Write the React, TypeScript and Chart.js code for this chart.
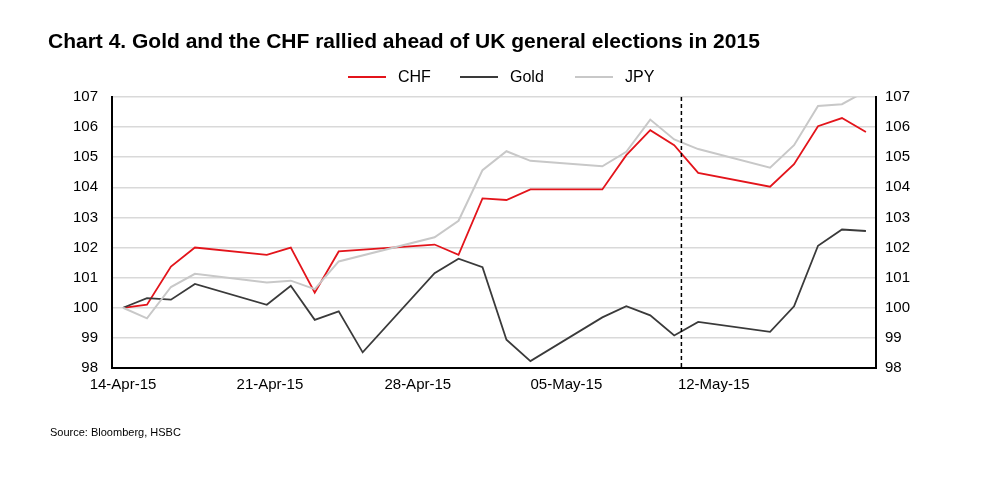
import React, { useEffect, useRef } from "react";
import { Chart, registerables } from "chart.js";
Chart.register(...registerables);

const days = [0, 1, 2, 3, 6, 7, 8, 9, 10, 13, 14, 15, 16, 17, 20, 21, 22, 23, 24, 27, 28, 29, 30, 31];
const chf = [100, 100.1, 101.37, 102, 101.76, 102, 100.5, 101.87, null, 102.1, 101.76, 103.63, 103.58, 103.93, 103.93, 105.07, 105.9, 105.4, 104.48, 104.02, 104.77, 106.03, 106.3, 105.84];
const gold = [100, 100.32, 100.27, 100.79, 100.1, 100.73, 99.6, 99.88, 98.52, 101.15, 101.63, 101.35, 98.94, 98.23, 99.68, 100.05, 99.75, 99.08, 99.53, 99.2, 100.05, 102.06, 102.6, 102.55];
const jpy = [100, 99.65, 100.69, 101.13, 100.84, 100.9, 100.62, 101.54, null, 102.34, 102.89, 104.57, 105.2, 104.88, 104.7, 105.18, 106.25, 105.59, 105.27, 104.65, 105.4, 106.7, 106.76, 107.2];
const tickPos = [0, 6.13, 12.3, 18.5, 24.65];
const tickLabels = ["14-Apr-15", "21-Apr-15", "28-Apr-15", "05-May-15", "12-May-15"];
const electionDay = 23.3;

const pts = (arr: (number | null)[]) => days.map((d, i) => ({ x: d, y: arr[i] }));
const FONT = "'Liberation Sans', Arial, sans-serif";

export default function App() {
  const ref = useRef<HTMLCanvasElement>(null);
  useEffect(() => {
    const dashPlugin = {
      id: "dash",
      afterDatasetsDraw(c: any) {
        const x = c.scales.x.getPixelForValue(electionDay);
        const ctx = c.ctx;
        ctx.save();
        ctx.strokeStyle = "#000";
        ctx.lineWidth = 1.5;
        ctx.setLineDash([4, 3]);
        ctx.beginPath();
        ctx.moveTo(x, c.chartArea.top);
        ctx.lineTo(x, c.chartArea.bottom);
        ctx.stroke();
        ctx.restore();
      },
    };
    const yTicks = { font: { family: FONT, size: 15 }, color: "#000", stepSize: 1 };
    const chart = new Chart(ref.current!, {
      type: "line",
      data: {
        datasets: [
          { label: "JPY", data: pts(jpy), borderColor: "#c8c8c8", borderWidth: 2, spanGaps: true },
          { label: "Gold", data: pts(gold), borderColor: "#3a3a3a", borderWidth: 1.8, spanGaps: true },
          { label: "CHF", data: pts(chf), borderColor: "#e3141b", borderWidth: 1.8, spanGaps: true },
        ],
      },
      options: {
        animation: false,
        responsive: false,
        elements: { point: { radius: 0 }, line: { tension: 0 } },
        layout: { padding: { top: 97, left: 0, right: 0, bottom: 0 } },
        plugins: { legend: { display: false }, tooltip: { enabled: false } },
        scales: {
          x: {
            type: "linear",
            min: -0.46,
            max: 31.42,
            afterBuildTicks: (s: any) => { s.ticks = tickPos.map((v) => ({ value: v })); },
            afterFit: (s: any) => { s.height = 125; },
            ticks: {
              autoSkip: false,
              maxRotation: 0,
              padding: 2,
              font: { family: FONT, size: 15 },
              color: "#000",
              callback: (v: any) => tickLabels[tickPos.indexOf(v)] ?? "",
            },
            grid: { display: false, drawTicks: true, tickLength: 6, color: "#000" },
            border: { color: "#000", width: 2 },
          },
          y: {
            position: "left",
            min: 98,
            max: 107,
            ticks: { ...yTicks, padding: 14 },
            afterFit: (s: any) => { s.width = 112; },
            grid: { color: "#d9d9d9", lineWidth: 1.5, drawTicks: false },
            border: { color: "#000", width: 2 },
          },
          y2: {
            position: "right",
            min: 98,
            max: 107,
            ticks: { ...yTicks, padding: 4 },
            afterFit: (s: any) => { s.width = 126; },
            grid: { display: false, drawTicks: true, tickLength: 5, color: "#000" },
            border: { color: "#000", width: 2 },
          },
        },
      },
      plugins: [dashPlugin],
    } as any);
    return () => chart.destroy();
  }, []);

  const legendItem = (color: string, label: string, left: number) => (
    <div style={{ position: "absolute", left, top: 68, display: "flex", alignItems: "center" }}>
      <div style={{ width: 38, height: 2, background: color, marginRight: 12 }} />
      <span style={{ fontSize: 16 }}>{label}</span>
    </div>
  );

  return (
    <div style={{ position: "fixed", left: 0, top: 0, width: 1002, height: 493, background: "#fff", fontFamily: FONT, color: "#000" }}>
      <canvas ref={ref} width={1002} height={493} style={{ position: "absolute", left: 0, top: 0 }} />
      <div style={{ position: "absolute", left: 48, top: 29, fontSize: 21, fontWeight: "bold", whiteSpace: "nowrap" }}>
        Chart 4. Gold and the CHF rallied ahead of UK general elections in 2015
      </div>
      {legendItem("#e3141b", "CHF", 348)}
      {legendItem("#3a3a3a", "Gold", 460)}
      {legendItem("#c8c8c8", "JPY", 575)}
      <div style={{ position: "absolute", left: 50, top: 426, fontSize: 11 }}>Source: Bloomberg, HSBC</div>
    </div>
  );
}
